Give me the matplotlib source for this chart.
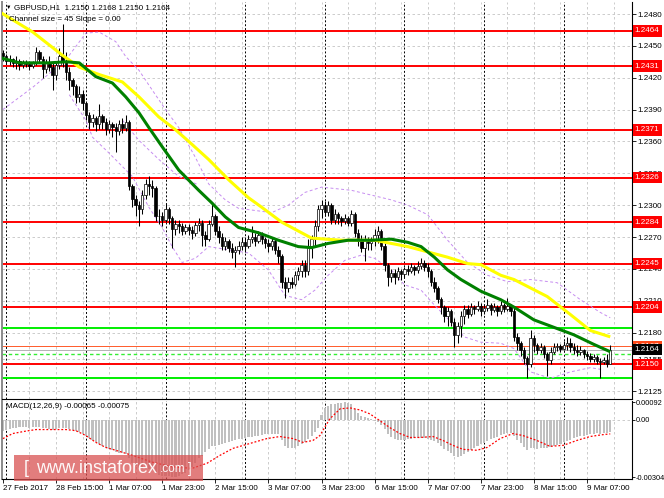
import numpy as np
import matplotlib
matplotlib.use('Agg')
import matplotlib.pyplot as plt
from matplotlib.patches import Rectangle

plt.rcParams['font.family'] = ['Liberation Sans', 'DejaVu Sans']

W, H = 664, 498
FS = 5.8

# GBPUSD H1 candles, prices in 1e-4 units (12440 -> 1.2440); open = previous close
first_open = 12443
closes = [
    12440, 12436, 12438, 12434, 12436, 12432, 12435, 12433, 12431, 12434,
    12444, 12438, 12428, 12434, 12430, 12423, 12432, 12440, 12436, 12425,
    12418, 12412, 12402, 12405, 12396, 12385, 12378, 12382, 12376, 12384,
    12378, 12372, 12376, 12374, 12370, 12376, 12373, 12378, 12318, 12306,
    12300, 12296, 12310, 12320, 12318, 12316, 12290, 12290, 12286, 12296,
    12288, 12278, 12282, 12280, 12276, 12279, 12277, 12274, 12281, 12283,
    12272, 12268, 12282, 12290, 12276, 12270, 12262, 12266, 12260, 12256,
    12258, 12262, 12265, 12262, 12268, 12270, 12266, 12272, 12268, 12264,
    12262, 12266, 12258, 12252, 12228, 12222, 12228, 12226, 12234, 12238,
    12244, 12238, 12262, 12268, 12280, 12296, 12300, 12294, 12300, 12286,
    12292, 12288, 12285, 12288, 12283, 12292, 12274, 12266, 12260, 12268,
    12264, 12266, 12272, 12276, 12262, 12244, 12232, 12236, 12232, 12238,
    12235, 12240, 12238, 12242, 12239, 12243, 12246, 12242, 12238, 12228,
    12222, 12212, 12204, 12196, 12200, 12190, 12178, 12186, 12196, 12202,
    12198, 12204, 12202, 12205, 12200, 12203, 12206, 12201, 12204, 12200,
    12206, 12202, 12205, 12200, 12176, 12170, 12164, 12156, 12150, 12175,
    12168, 12164, 12166, 12160, 12154, 12162, 12166, 12167, 12165, 12168,
    12170, 12166, 12164, 12162, 12164, 12160, 12158, 12155, 12157, 12153,
    12152, 12154, 12150, 12164,
]
highs = [
    12446, 12442, 12441, 12439, 12440, 12438, 12437, 12437, 12436, 12436,
    12449, 12446, 12440, 12438, 12440, 12434, 12436, 12448, 12471, 12444,
    12430, 12420, 12414, 12412, 12408, 12398, 12388, 12386, 12384, 12395,
    12386, 12382, 12380, 12378, 12377, 12380, 12382, 12385, 12380, 12320,
    12310, 12304, 12314, 12325, 12327, 12324, 12318, 12296, 12294, 12302,
    12298, 12290, 12286, 12286, 12283, 12282, 12282, 12280, 12284, 12288,
    12286, 12276, 12286, 12303, 12292, 12280, 12274, 12270, 12268, 12264,
    12262, 12266, 12270, 12270, 12272, 12280, 12274, 12276, 12275, 12270,
    12268, 12270, 12268, 12262, 12254, 12232, 12232, 12232, 12238, 12242,
    12248, 12248, 12268, 12272, 12286, 12300, 12305, 12304, 12304, 12302,
    12296, 12294, 12290, 12292, 12290, 12295, 12294, 12278, 12272, 12272,
    12270, 12270, 12278, 12280, 12278, 12264, 12246, 12240, 12240, 12242,
    12240, 12242, 12244, 12246, 12244, 12247, 12250, 12248, 12246, 12240,
    12232, 12224, 12214, 12206, 12204, 12202, 12194, 12190, 12200, 12206,
    12206, 12208, 12206, 12210, 12208, 12207, 12212, 12208, 12208, 12206,
    12210, 12208, 12213, 12207, 12204, 12180, 12172, 12166, 12158, 12182,
    12178, 12170, 12170, 12168, 12162, 12166, 12170, 12170, 12169, 12172,
    12176, 12175, 12170, 12168, 12167, 12165, 12163, 12161, 12160, 12159,
    12156, 12157, 12160, 12168,
]
lows = [
    12436, 12433, 12432, 12430, 12428, 12427, 12429, 12430, 12427, 12429,
    12432, 12434, 12420, 12424, 12426, 12408, 12418, 12428, 12430, 12418,
    12408, 12404, 12396, 12397, 12390, 12380, 12372, 12374, 12370, 12372,
    12372, 12366, 12368, 12364, 12350, 12366, 12368, 12370, 12314, 12298,
    12290, 12280, 12292, 12306, 12310, 12308, 12285, 12282, 12280, 12284,
    12282, 12260, 12272, 12274, 12272, 12273, 12272, 12268, 12271, 12276,
    12262, 12262, 12266, 12280, 12272, 12264, 12258, 12258, 12256, 12250,
    12242, 12254, 12258, 12256, 12260, 12264, 12262, 12264, 12263, 12260,
    12256, 12258, 12254, 12246, 12222, 12213, 12218, 12222, 12224, 12230,
    12232, 12232, 12234, 12250, 12262, 12276, 12288, 12290, 12290, 12282,
    12282, 12282, 12280, 12282, 12280, 12280, 12270, 12262, 12256, 12247,
    12258, 12258, 12262, 12264, 12258, 12238, 12224, 12228, 12226, 12230,
    12230, 12232, 12234, 12236, 12234, 12236, 12240, 12238, 12232, 12224,
    12218, 12208, 12198, 12190, 12186, 12186, 12166, 12170, 12176, 12188,
    12194, 12196, 12198, 12200, 12196, 12198, 12200, 12197, 12199, 12196,
    12198, 12199, 12200, 12196, 12172, 12164, 12158, 12150, 12137, 12148,
    12162, 12160, 12161, 12156, 12139, 12150, 12160, 12163, 12162, 12164,
    12164, 12162, 12160, 12158, 12159, 12156, 12154, 12152, 12152, 12150,
    12137, 12150, 12148, 12150,
]

x_labels = ['27 Feb 2017', '28 Feb 15:00', '1 Mar 07:00', '1 Mar 23:00',
            '2 Mar 15:00', '3 Mar 07:00', '3 Mar 23:00', '6 Mar 15:00',
            '7 Mar 07:00', '7 Mar 23:00', '8 Mar 15:00', '9 Mar 07:00']
bars_per_label = 16
day_start_bars = [1, 25, 49, 73, 97, 121, 145, 169]

price_ticks = [1.2480, 1.2450, 1.2420, 1.2390, 1.2360, 1.2330, 1.2300,
               1.2270, 1.2240, 1.2210, 1.2180, 1.2155, 1.2125]
red_levels = [1.2464, 1.2431, 1.2371, 1.2326, 1.2284, 1.2245, 1.2204, 1.2150]
green_levels = [1.2184, 1.2137]
ask_price = 1.2167
bid_price = 1.2164
dashed_level = 1.2160

# moving averages (bar index, price 1e-4)
green_ma_bar = [-1, 5, 14, 19, 23, 28, 33, 37, 41, 44, 48, 53, 59, 63, 67, 71, 77,
                83, 89, 93, 98, 104, 111, 117, 122, 126, 130, 134, 138, 144, 150,
                154, 160, 166, 172, 178, 183]
green_ma_val = [12439, 12434, 12434, 12435, 12434, 12421, 12415, 12402, 12387, 12373,
                12355, 12333, 12314, 12302, 12289, 12279, 12274, 12267, 12261, 12260,
                12264, 12267, 12267, 12268, 12265, 12261, 12251, 12239, 12230, 12219,
                12211, 12204, 12192, 12185, 12178, 12169, 12162]
yellow_ma_bar = [-1, 9, 18, 23, 29, 36, 41, 47, 52, 56, 62, 68, 74, 78, 84, 90, 93,
                 102, 112, 117, 122, 128, 134, 140, 144, 150, 154, 164, 171, 177, 183]
yellow_ma_val = [12482, 12463, 12441, 12430, 12423, 12416, 12402, 12383, 12371, 12360,
                 12343, 12324, 12307, 12298, 12284, 12274, 12269, 12267, 12267, 12264,
                 12261, 12256, 12251, 12245, 12244, 12234, 12230, 12214, 12197, 12182,
                 12176]

# channel bands (dashed violet)
band_up_bar = [0, 9, 19, 25, 29, 34, 37, 41, 44, 49, 53, 58, 62, 67, 71, 81, 86, 91,
               96, 105, 117, 122, 128, 134, 140, 146, 152, 159, 167, 174, 180, 183]
band_up_val = [12390, 12411, 12437, 12462, 12463, 12454, 12440, 12427, 12413, 12390,
               12373, 12345, 12320, 12305, 12297, 12293, 12300, 12312, 12317, 12314,
               12305, 12300, 12291, 12267, 12246, 12234, 12228, 12230, 12227, 12211,
               12199, 12194]
band_mid_bar = [36, 41, 47, 53, 59]
band_mid_val = [12380, 12361, 12343, 12327, 12319]
band_lo_bar = [20, 25, 27, 32, 39, 44, 48, 51, 54, 58, 62, 68, 74, 80, 85, 90, 94,
               98, 103, 108, 112, 117, 121, 126, 130, 135, 139, 144, 150, 154, 159,
               165, 171, 177, 181]
band_lo_val = [12404, 12380, 12364, 12349, 12327, 12298, 12279, 12261, 12246, 12250,
               12261, 12258, 12255, 12239, 12215, 12211, 12220, 12234, 12248, 12253,
               12250, 12239, 12225, 12220, 12206, 12190, 12176, 12171, 12170, 12165,
               12143, 12137, 12143, 12147, 12145]

# MACD(12,26,9) main as histogram, values in 1e-5
macd_hist = [
    -58, -55, -48, -44, -42, -40, -40, -41, -42, -40,
    -36, -38, -44, -45, -47, -52, -50, -46, -44, -46,
    -50, -54, -60, -66, -76, -86, -98, -110, -120, -128,
    -138, -148, -156, -162, -170, -175, -178, -180, -205, -228,
    -245, -258, -262, -262, -262, -266, -282, -292, -296, -298,
    -300, -304, -302, -298, -290, -280, -268, -252, -228, -205,
    -190, -172, -155, -140, -138, -134, -130, -126, -120, -114,
    -108, -104, -100, -96, -92, -90, -86, -84, -80, -78,
    -76, -74, -73, -78, -110, -140, -150, -152, -148, -140,
    -128, -116, -100, -86, -66, -45, 25, 60, 75, 82,
    86, 89, 91, 92, 90, 86, 55, 35, 22, 14,
    8, 3, -4, -12, -28, -50, -75, -92, -100, -108,
    -110, -106, -102, -100, -98, -96, -95, -96, -100, -110,
    -115, -125, -140, -155, -168, -178, -190, -198, -192, -182,
    -172, -160, -150, -140, -130, -122, -112, -104, -96, -90,
    -82, -76, -72, -70, -85, -105, -125, -145, -160, -150,
    -152, -155, -150, -148, -150, -145, -140, -135, -128, -120,
    -112, -105, -98, -92, -88, -84, -80, -76, -74, -72,
    -73, -72, -70, -65,
]
signal_bar = [0, 3, 7, 10, 19, 22, 25, 28, 31, 34, 39, 45, 51, 57, 61.5, 65.4, 69.3,
              74.4, 79.5, 83.5, 87.4, 90.4, 93.4, 95.5, 98.5, 101.6, 104.6, 107.6,
              110.6, 113.6, 116.6, 119.6, 122.7, 125.7, 129.6, 132.6, 135.6, 138.6,
              142.8, 145.9, 149.8, 153.7, 156.7, 160.9, 164.8, 168.8, 172.9, 176.9,
              180.8, 183]
signal_val = [-100, -73, -60, -52, -52, -58, -84, -120, -147, -162, -189, -225, -250,
              -258, -231, -189, -152, -126, -100, -89, -100, -120, -110, -84, 5, 58,
              63, 52, 31, -5, -42, -73, -94, -94, -89, -110, -136, -157, -162, -147,
              -100, -73, -84, -110, -141, -136, -110, -89, -79, -75]
macd_ticks = [0.00092, 0.0, -0.00304]
macd_tick_labels = ['0.00092', '0.00', '-0.00304']

# ---------------------------------------------------------------------------
c = np.array(closes) / 1e4
o = np.array([first_open] + closes[:-1]) / 1e4
hi = np.array(highs) / 1e4
lo = np.array(lows) / 1e4
idx = np.arange(len(c))

fig = plt.figure(figsize=(W / 100, H / 100), dpi=100, facecolor='white')


def px_axes(x0, y0, x1, y1):
    return fig.add_axes([x0 / W, 1 - y1 / H, (x1 - x0) / W, (y1 - y0) / H])


ax = px_axes(2, 2, 632, 399)
axm = px_axes(2, 401, 632, 479)
xlim = (-0.27, 189.55)

grid_kw = dict(color='#c4c4c4', ls=(0, (3, 3)), lw=0.6, zorder=0.5)
sep_kw = dict(color='black', ls=(0, (2, 2)), lw=0.7, zorder=0.6)
for a in (ax, axm):
    a.set_xlim(*xlim)
    for b in range(8, int(xlim[1]) + 1, 8):
        a.axvline(b, **grid_kw)
    for b in day_start_bars:
        a.axvline(b, **sep_kw)
    a.spines['top'].set_visible(False)
    a.spines['left'].set_color('#8a8a8a')
    a.spines['left'].set_linewidth(1.4)
    for s in ('right', 'bottom'):
        a.spines[s].set_color('black')
        a.spines[s].set_linewidth(0.8)
    a.yaxis.tick_right()
    a.tick_params(axis='y', length=3, width=0.6, pad=1.2, labelsize=FS)

# ---- main price panel
ax.set_ylim(1.21175, 1.24913)
ax.set_xticks([])
ax.set_yticks(price_ticks)
ax.set_yticklabels([f'{t:.4f}' for t in price_ticks])
for t in price_ticks:
    ax.axhline(t, **grid_kw)

for lv in red_levels:
    ax.axhline(lv, color='#ff0000', lw=1.4, zorder=2)
for lv in green_levels:
    ax.axhline(lv, color='#00ee00', lw=1.4, zorder=2)
ax.axhline(ask_price, color='#ff5a2a', lw=0.7, zorder=2)
ax.axhline(bid_price, color='#b4b4b4', lw=0.7, zorder=2)
ax.axhline(dashed_level, color='#33ee33', lw=1.0, ls=(0, (2.5, 2)), zorder=2)

band_kw = dict(color='#c68cf0', lw=0.7, ls=(0, (3, 2.5)), zorder=2.5)
ax.plot(band_up_bar, np.array(band_up_val) / 1e4, **band_kw)
ax.plot(band_mid_bar, np.array(band_mid_val) / 1e4, **band_kw)
ax.plot(band_lo_bar, np.array(band_lo_val) / 1e4, **band_kw)

# candles
ax.vlines(idx, lo, hi, color='black', lw=0.75, zorder=3)
up = c >= o
body_lo = np.minimum(o, c)
body_h = np.maximum(np.abs(c - o), 0.00002)
ax.bar(idx[up], body_h[up], bottom=body_lo[up], width=0.72, color='white',
       edgecolor='black', lw=0.5, zorder=3.1)
ax.bar(idx[~up], body_h[~up], bottom=body_lo[~up], width=0.72, color='black',
       edgecolor='black', lw=0.5, zorder=3.1)

ax.plot(yellow_ma_bar, np.array(yellow_ma_val) / 1e4, color='#ffff00', lw=2.2,
        zorder=4, solid_capstyle='butt')
ax.plot(green_ma_bar, np.array(green_ma_val) / 1e4, color='#008000', lw=2.2,
        zorder=4.1, solid_capstyle='butt')


def level_box(y, txt, fc):
    ax.text(1.0045, y, txt, transform=ax.get_yaxis_transform(), ha='left',
            va='center', fontsize=FS, color='white', clip_on=False, zorder=10,
            bbox=dict(boxstyle='square,pad=0.28', fc=fc, ec='none'))


for lv in red_levels:
    level_box(lv, f'{lv:.4f}', '#ff0000')
level_box(ask_price, f'{ask_price:.4f}', '#ff4a1a')
level_box(bid_price, f'{bid_price:.4f}', 'black')

# ---- MACD panel
axm.set_ylim(-0.003145, 0.000996)
axm.axhline(0, **grid_kw)
axm.bar(idx, np.array(macd_hist) / 1e5, width=0.62, color='#c0c0c0', zorder=2)
axm.plot(signal_bar, np.array(signal_val) / 1e5, color='#ff0000', lw=0.9,
         ls=(0, (1.5, 1.5)), zorder=3)
axm.set_yticks(macd_ticks)
axm.set_yticklabels(macd_tick_labels)
axm.tick_params(axis='y', length=2, pad=0.8, labelsize=5.3)
tick_pos = list(range(0, len(c), bars_per_label))
axm.set_xticks(tick_pos)
axm.set_xticklabels(x_labels[:len(tick_pos)])
axm.tick_params(axis='x', length=3, width=0.6, pad=1.5, labelsize=FS)
for lab in axm.get_xticklabels():
    lab.set_ha('left')

# ---- texts
def ftext(x, y, s, **kw):
    fig.text(x / W, 1 - y / H, s, va='center', ha='left', **kw)


ftext(6, 7, '\u25bc', fontsize=4, color='black')
ftext(14, 7.5, 'GBPUSD,H1  1.2150 1.2168 1.2150 1.2164', fontsize=FS, color='black')
ftext(9, 19.5, 'Channel size = 45 Slope = 0.00', fontsize=FS, color='black')
ftext(6, 407, 'MACD(12,26,9) -0.00065 -0.00075', fontsize=FS, color='black')

# watermark
fig.patches.append(Rectangle((14 / W, 1 - 481 / H), 189 / W, 26 / H,
                             transform=fig.transFigure, fc='#d95050', ec='none',
                             alpha=0.74, zorder=20))
wm = dict(color='white', zorder=21, alpha=0.95)
fig.text(24 / W, 1 - 468 / H, '[', fontsize=13, va='center', ha='left', **wm)
fig.text(36 / W, 1 - 468 / H, 'www.instaforex', fontsize=13, va='center',
         ha='left', **wm)
fig.text(160 / W, 1 - 469 / H, '.com', fontsize=8.5, va='center', ha='left', **wm)
fig.text(188 / W, 1 - 469 / H, ']', fontsize=10, va='center', ha='left', **wm)

fig.savefig('out.png', dpi=100, facecolor='white')
